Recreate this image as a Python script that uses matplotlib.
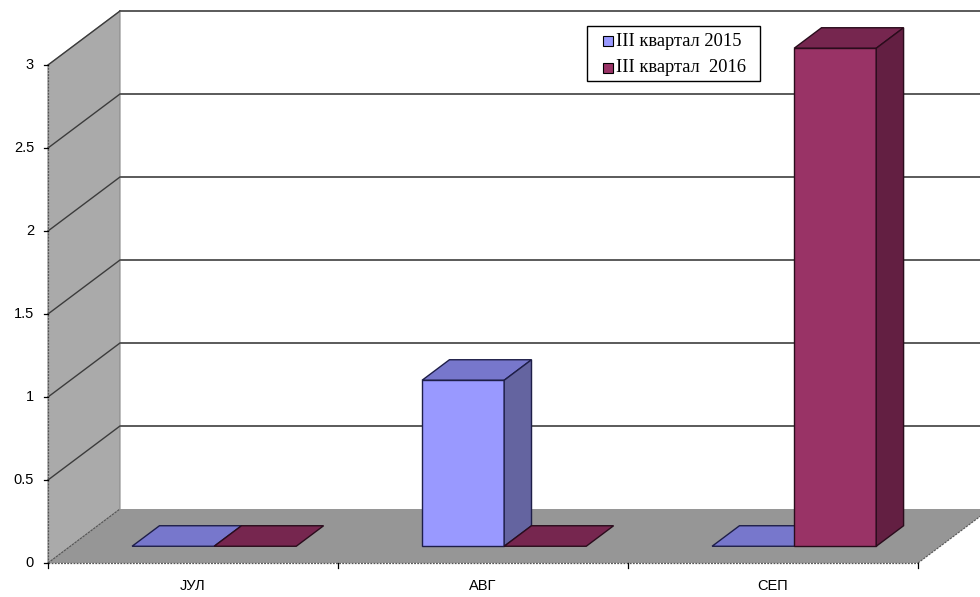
import matplotlib
matplotlib.use("Agg")
import matplotlib.pyplot as plt
from matplotlib.patches import Polygon, Rectangle

months = ["ЈУЛ", "АВГ", "СЕП"]
series = ["III квартал 2015", "III квартал  2016"]
q2015 = [0, 1, 0]
q2016 = [0, 0, 3]
yticks = [0, 0.5, 1, 1.5, 2, 2.5, 3]

front_col = ["#9999ff", "#993366"]
top_col = ["#7777cc", "#76264f"]
side_col = ["#6464a0", "#631f42"]
edge_col = ["#1e1e48", "#2a0c1c"]

# pseudo-3d projection in pixel space: c = category units, v = value, d = depth 0..1
X0, Y0, CW, VU, DX, DY = 48, 563, 290, 166, 72, 54


def proj(c, v, d):
    return (X0 + c * CW + d * DX, Y0 - v * VU - d * DY)


fig = plt.figure(figsize=(9.8, 5.97), dpi=100)
ax = fig.add_axes([0, 0, 1, 1])
ax.set_xlim(0, 980)
ax.set_ylim(597, 0)
ax.axis("off")

ymax = 3
ncat = len(months)

# back wall
ax.add_patch(Polygon([proj(0, 0, 1), proj(ncat + 1, 0, 1), proj(ncat + 1, ymax, 1), proj(0, ymax, 1)],
                     closed=True, fc="white", ec="none", zorder=1))
for v in yticks[1:]:
    (xa, ya), (xb, yb) = proj(0, v, 1), proj(ncat + 1, v, 1)
    ax.plot([xa, xb], [ya, yb], color="#5a5a5a", lw=1.4, zorder=2)

# left wall
ax.add_patch(Polygon([proj(0, 0, 0), proj(0, ymax, 0), proj(0, ymax, 1), proj(0, 0, 1)],
                     closed=True, fc="#aaaaaa", ec="#8a8a8a", lw=0.8, zorder=3))
for v in yticks[1:]:
    (xa, ya), (xb, yb) = proj(0, v, 0), proj(0, v, 1)
    ax.plot([xa, xb], [ya, yb], color="#3c3c3c", lw=1.0, zorder=4)

# floor
ax.add_patch(Polygon([proj(0, 0, 0), proj(ncat, 0, 0), proj(ncat, 0, 1), proj(0, 0, 1)],
                     closed=True, fc="#969696", ec="none", zorder=3))
(xa, ya), (xb, yb) = proj(ncat, 0, 0), proj(ncat, 0, 1)
ax.plot([xa, xb], [ya, yb], color="#555555", lw=0.8, ls=(0, (2, 1)), zorder=4)
(xa, ya), (xb, yb) = proj(0, 0, 0), proj(0, 0, 1)
ax.plot([xa, xb], [ya, yb], color="#555555", lw=0.8, ls=(0, (2, 1)), zorder=4)

# bars
bw, off, d0, d1 = 0.283, 0.213, 0.31, 0.69
for i in range(ncat):
    for s, vals in enumerate([q2015, q2016]):
        v = vals[i]
        c0 = i + off + s * bw
        c1 = c0 + bw
        z = 5 + i * 2 + s
        top = [proj(c0, v, d0), proj(c1, v, d0), proj(c1, v, d1), proj(c0, v, d1)]
        ax.add_patch(Polygon(top, closed=True, fc=top_col[s], ec=edge_col[s], lw=1, zorder=z))
        if v > 0:
            front = [proj(c0, 0, d0), proj(c1, 0, d0), proj(c1, v, d0), proj(c0, v, d0)]
            side = [proj(c1, 0, d0), proj(c1, 0, d1), proj(c1, v, d1), proj(c1, v, d0)]
            ax.add_patch(Polygon(front, closed=True, fc=front_col[s], ec=edge_col[s], lw=1, zorder=z))
            ax.add_patch(Polygon(side, closed=True, fc=side_col[s], ec=edge_col[s], lw=1, zorder=z))

# axes lines, ticks, labels
(xa, ya), (xb, yb) = proj(0, 0, 0), proj(0, ymax, 0)
ax.plot([xa, xb], [ya, yb], color="#555555", lw=0.9, ls=(0, (1.5, 1)), zorder=20)
(xa, ya), (xb, yb) = proj(0, 0, 0), proj(ncat, 0, 0)
ax.plot([xa, xb], [ya, yb], color="#555555", lw=0.9, ls=(0, (1.5, 1)), zorder=20)
for v in yticks:
    x, y = proj(0, v, 0)
    ax.plot([x - 4, x], [y, y], color="black", lw=0.9, zorder=20)
    ax.text(x - 14, y, f"{v:g}", ha="right", va="center", fontsize=10.5,
            family="Liberation Sans", color="black")
for k in range(ncat + 1):
    x, y = proj(k, 0, 0)
    ax.plot([x, x], [y, y + 5], color="black", lw=0.9, zorder=20)
for i, m in enumerate(months):
    x, y = proj(i + 0.5, 0, 0)
    ax.text(x, y + 23, m, ha="center", va="center", fontsize=10.5,
            family="Liberation Sans", color="black")

# legend
ax.add_patch(Rectangle((587, 26), 173, 55, fc="white", ec="black", lw=1, zorder=30))
for s, name in enumerate(series):
    ly = 41 + s * 27
    ax.add_patch(Rectangle((603, ly - 5), 10, 10, fc=front_col[s], ec="black", lw=0.8, zorder=31))
    ax.text(616, ly, name, ha="left", va="center", fontsize=13.3,
            family="Liberation Serif", color="black", zorder=31)

fig.savefig("out.png", dpi=100)
